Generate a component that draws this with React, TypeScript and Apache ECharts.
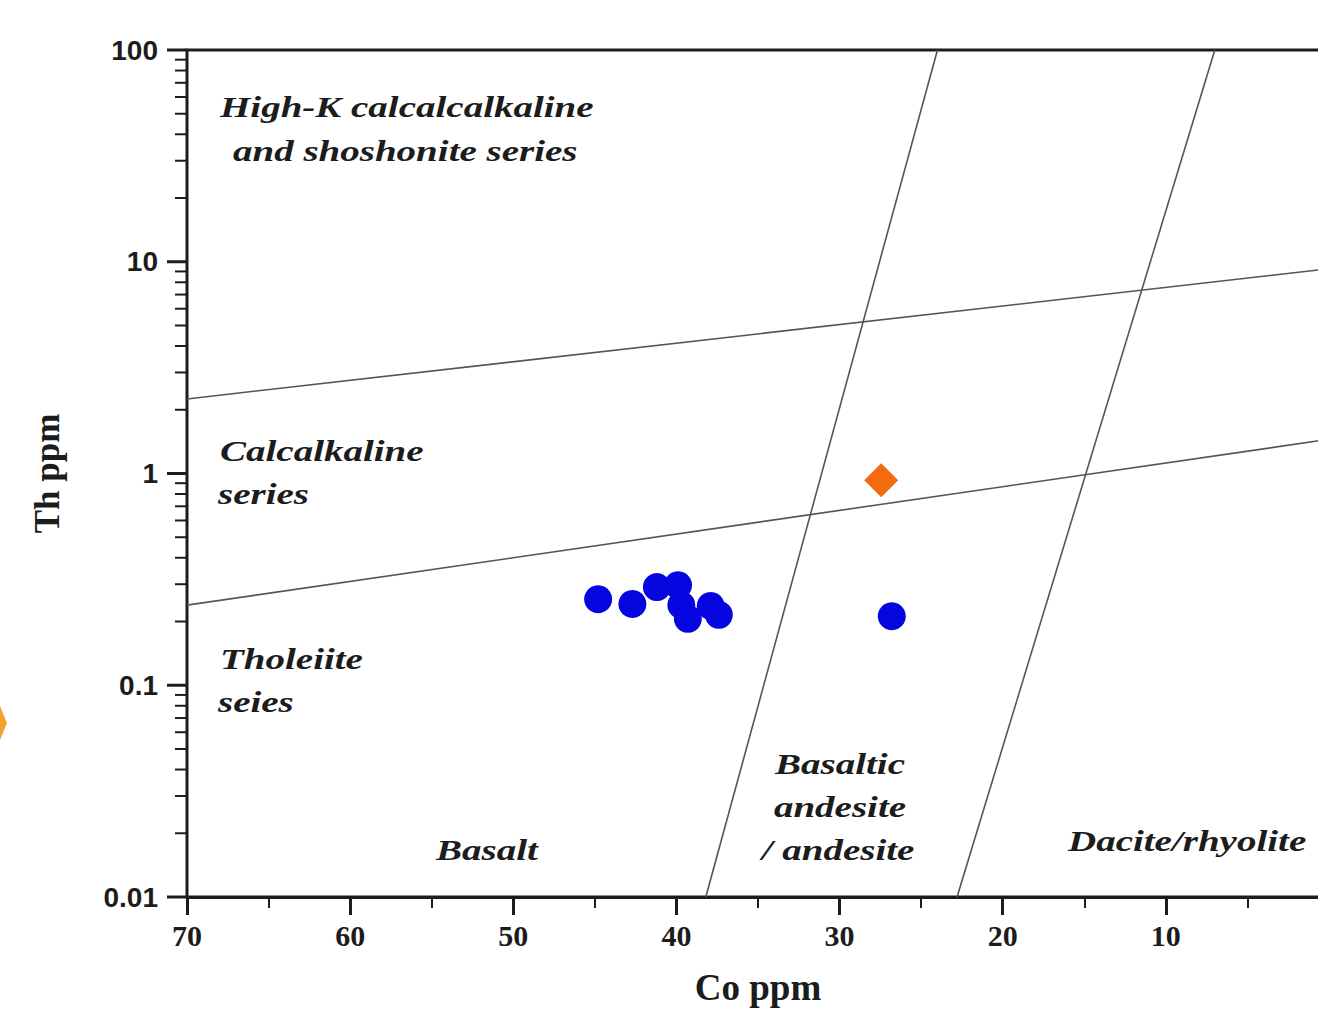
import React, { useEffect, useRef } from "react";
import * as echarts from "echarts";

// ---- data ----
const xTicks = [70, 60, 50, 40, 30, 20, 10];
const yMajorTicks = [0.01, 0.1, 1, 10, 100];
const yMinorTicks = [
  0.02, 0.03, 0.04, 0.05, 0.06, 0.07, 0.08, 0.09,
  0.2, 0.3, 0.4, 0.5, 0.6, 0.7, 0.8, 0.9,
  2, 3, 4, 5, 6, 7, 8, 9,
  20, 30, 40, 50, 60, 70, 80, 90,
];
const blueCo = [44.8, 42.7, 41.2, 39.9, 39.7, 39.3, 37.9, 37.4, 26.8];
const blueTh = [0.255, 0.242, 0.291, 0.297, 0.239, 0.206, 0.237, 0.215, 0.212];
const orangeCo = [27.45];
const orangeTh = [0.93];
// boundary lines [Co, Th] endpoints
const lineUpper = [[70, 2.25], [0, 9.26]];
const lineLower = [[70, 0.239], [0, 1.45]];
const lineBasaltAndesite = [[38.2, 0.01], [24.0, 100]];
const lineAndesiteDacite = [[22.8, 0.01], [7.0, 100]];
const regionLabels = [
  { text: "High-K calcalcalkaline", x: 220, y: 107, align: "left" },
  { text: "and shoshonite series", x: 233, y: 151, align: "left" },
  { text: "Calcalkaline", x: 220, y: 451, align: "left" },
  { text: "series", x: 218, y: 494, align: "left" },
  { text: "Tholeiite", x: 220, y: 659, align: "left" },
  { text: "seies", x: 218, y: 702, align: "left" },
  { text: "Basalt", x: 436, y: 850, align: "left" },
  { text: "Basaltic", x: 840, y: 764, align: "center" },
  { text: "andesite", x: 840, y: 807, align: "center" },
  { text: "/ andesite", x: 838, y: 850, align: "center" },
  { text: "Dacite/rhyolite", x: 1068, y: 841, align: "left" },
];

const SERIF = "'Liberation Serif', 'Times New Roman', serif";
const SANS = "'Liberation Sans', Arial, sans-serif";
const INK = "#1c1c1c";
const LINE = "#555555";

export default function App() {
  const ref = useRef<HTMLDivElement>(null);
  useEffect(() => {
    if (!ref.current) return;
    const chart = echarts.init(ref.current, undefined, { renderer: "svg" });
    const boundary = (d: number[][]) => ({
      type: "line",
      data: d,
      symbol: "none",
      silent: true,
      lineStyle: { color: LINE, width: 1.6 },
      z: 2,
    });
    const tickSeries = (vals: number[], len: number, w: number) => ({
      type: "custom",
      silent: true,
      clip: false,
      data: vals.map((v) => [70, v]),
      renderItem: (params: any, api: any) => {
        const p = api.coord([api.value(0), api.value(1)]);
        return {
          type: "line",
          shape: { x1: p[0] - len, y1: p[1], x2: p[0], y2: p[1] },
          style: { stroke: INK, lineWidth: w },
        };
      },
      z: 3,
    });
    chart.setOption({
      animation: false,
      backgroundColor: "#ffffff",
      grid: {
        left: 187,
        top: 50,
        right: 21,
        bottom: 112,
        containLabel: false,
        outerBoundsMode: "none",
        show: true,
        borderColor: INK,
        borderWidth: 3,
      },
      xAxis: {
        type: "value",
        inverse: true,
        min: 0,
        max: 70,
        interval: 10,
        name: "Co ppm",
        nameLocation: "middle",
        nameGap: 72,
        nameTextStyle: { fontFamily: SERIF, fontWeight: "bold", fontSize: 37, color: INK },
        axisLine: { show: true, lineStyle: { color: INK, width: 3 } },
        axisTick: { show: true, length: 18, lineStyle: { color: INK, width: 3 } },
        minorTick: { show: true, splitNumber: 2, length: 11, lineStyle: { color: INK, width: 2 } },
        splitLine: { show: false },
        axisLabel: {
          margin: 23,
          fontFamily: SERIF,
          fontWeight: "bold",
          fontSize: 30,
          color: INK,
          formatter: (v: number) => (xTicks.includes(v) ? String(v) : ""),
        },
      },
      yAxis: {
        type: "log",
        logBase: 10,
        min: 0.01,
        max: 100,
        name: "Th ppm",
        nameLocation: "middle",
        nameGap: 122,
        nameTextStyle: { fontFamily: SERIF, fontWeight: "bold", fontSize: 35, color: INK },
        axisLine: { show: true, lineStyle: { color: INK, width: 3 } },
        axisTick: { show: false },
        splitLine: { show: false },
        axisLabel: {
          margin: 29,
          fontFamily: SANS,
          fontWeight: "bold",
          fontSize: 28,
          color: INK,
          formatter: (v: number) => String(v),
        },
      },
      series: [
        tickSeries(yMajorTicks, 20, 3),
        tickSeries(yMinorTicks, 12, 2),
        boundary(lineUpper),
        boundary(lineLower),
        boundary(lineBasaltAndesite),
        boundary(lineAndesiteDacite),
        {
          type: "scatter",
          data: blueCo.map((c, i) => [c, blueTh[i]]),
          symbol: "circle",
          symbolSize: 28,
          itemStyle: { color: "#0505e0", opacity: 1 },
          z: 5,
        },
        {
          type: "scatter",
          data: orangeCo.map((c, i) => [c, orangeTh[i]]),
          symbol: "diamond",
          symbolSize: 34,
          itemStyle: { color: "#f26b0f", opacity: 1 },
          z: 5,
        },
      ],
      graphic: [
        ...regionLabels.map((l) => ({
          type: "text",
          x: l.x,
          y: l.y,
          scaleX: 1.3,
          silent: true,
          z: 10,
          style: {
            text: l.text,
            fontFamily: SERIF,
            fontWeight: "bold",
            fontStyle: "italic",
            fontSize: 30,
            fill: INK,
            textAlign: l.align,
            textVerticalAlign: "middle",
          },
        })),
        {
          type: "polygon",
          silent: true,
          shape: { points: [[-20, 706], [0, 706], [7, 723], [0, 740], [-20, 740]] },
          style: { fill: "#f2a22e" },
        },
      ],
    });
    return () => chart.dispose();
  }, []);
  return (
    <div
      ref={ref}
      style={{ position: "fixed", left: 0, top: 0, width: 1350, height: 1009, background: "#fff" }}
    />
  );
}
